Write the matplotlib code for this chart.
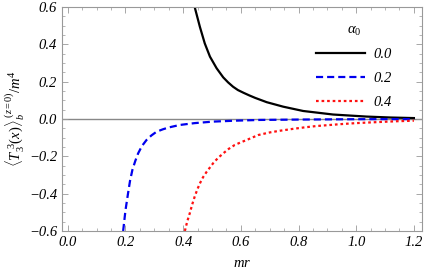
import matplotlib
matplotlib.use("Agg")
import matplotlib.pyplot as plt
from matplotlib.ticker import MultipleLocator

plt.rcParams['font.family'] = ['Liberation Serif', 'DejaVu Serif']
plt.rcParams['mathtext.fontset'] = 'custom'
plt.rcParams['mathtext.rm'] = 'Liberation Serif'
plt.rcParams['mathtext.it'] = 'Liberation Serif:italic'

# values
mr_a0 = [0.44, 0.458, 0.475, 0.493, 0.516, 0.539, 0.556, 0.573, 0.59, 0.61, 0.63, 0.65, 0.69, 0.747,
         0.816, 0.92, 1.036, 1.12, 1.2]
T_a0 = [0.60, 0.494, 0.405, 0.334, 0.272, 0.223, 0.196, 0.173, 0.155, 0.14, 0.126, 0.113, 0.09, 0.066,
        0.043, 0.024, 0.013, 0.008, 0.005]

mr_a2 = [0.192, 0.2, 0.209, 0.216, 0.224, 0.234, 0.244, 0.257, 0.273, 0.29, 0.308,
         0.33, 0.351, 0.388, 0.44, 0.503, 0.58, 0.666, 0.8, 1.0, 1.2]
T_a2 = [-0.6, -0.49, -0.398, -0.33, -0.273, -0.225, -0.184, -0.145, -0.1125, -0.088, -0.068,
        -0.055, -0.045, -0.032, -0.022, -0.014, -0.009, -0.005, -0.003, -0.001, -0.0005]

mr_a4 = [0.406, 0.414, 0.423, 0.431, 0.44, 0.449, 0.458, 0.469, 0.481, 0.504, 0.52,
         0.539, 0.558, 0.579, 0.6, 0.62, 0.66, 0.7, 0.735, 0.78, 0.82, 0.86, 0.909,
         0.95, 1.0, 1.04, 1.082, 1.14, 1.2]
T_a4 = [-0.6, -0.55, -0.505, -0.46, -0.416, -0.378, -0.345, -0.312, -0.284, -0.237, -0.21,
        -0.184, -0.16, -0.139, -0.125, -0.1125, -0.086, -0.072, -0.063, -0.053, -0.045, -0.038, -0.032,
        -0.027, -0.022, -0.019, -0.016, -0.012, -0.009]

labels = ['0.0', '0.2', '0.4']
xticks = [0.0, 0.2, 0.4, 0.6, 0.8, 1.0, 1.2]
yticks = [-0.6, -0.4, -0.2, 0.0, 0.2, 0.4, 0.6]

def tick_text(v):
    return ('%.1f' % v).replace('-', '\u2212')

fig = plt.figure(figsize=(4.27, 2.75), dpi=100)
ax = fig.add_axes([0.1452, 0.16, 0.843, 0.8145])

ax.axhline(0, color='#888888', lw=1.0, zorder=1)
ax.plot(mr_a0, T_a0, color='black', lw=1.6, label=labels[0])
ax.plot(mr_a2, T_a2, color='#0000ee', lw=1.6, ls=(0, (3.2, 1.8)), label=labels[1])
ax.plot(mr_a4, T_a4, color='#ff1010', lw=1.6, ls=(0, (1.2, 1.3)), label=labels[2])

ax.set_xlim(-0.02, 1.228)
ax.set_ylim(-0.6, 0.6)
ax.set_xticks(xticks)
ax.set_xticklabels([tick_text(v) for v in xticks], fontstyle='italic', fontsize=10.5)
ax.set_yticks(yticks)
ax.set_yticklabels([tick_text(v) for v in yticks], fontstyle='italic', fontsize=10.5)
ax.xaxis.set_minor_locator(MultipleLocator(0.05))
ax.yaxis.set_minor_locator(MultipleLocator(0.05))
ax.tick_params(which='both', direction='in', top=True, right=True, color='#999999')
ax.tick_params(which='major', length=4, width=0.6)
ax.tick_params(which='minor', length=2.2, width=0.5)
for s in ax.spines.values():
    s.set_color('#999999')
    s.set_linewidth(0.8)

ax.set_xlabel(r'$mr$', fontsize=10.5, labelpad=6)
ax.set_ylabel(r'$\langle T_3^{\ 3}(x)\rangle_b^{\ (z=0)}/m^4$', fontsize=10.5, labelpad=2)

leg = ax.legend(title=r'$\alpha_0$', frameon=False, loc='upper right',
                bbox_to_anchor=(0.954, 0.985), handlelength=3.4, fontsize=10.5,
                title_fontsize=10.5, labelspacing=0.72, handletextpad=0.6)
for t in leg.get_texts():
    t.set_fontstyle('italic')

fig.savefig('out.png', dpi=100)
